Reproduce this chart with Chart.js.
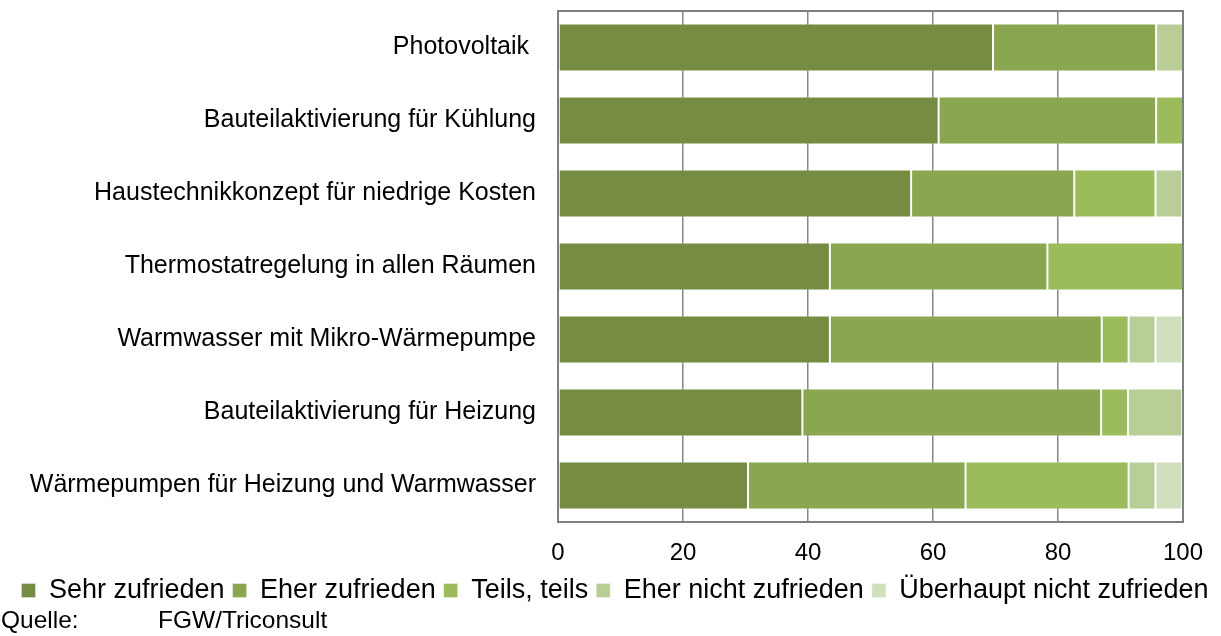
<!DOCTYPE html>
<html>
<head>
<meta charset="utf-8">
<script src="https://cdn.jsdelivr.net/npm/chart.js@4.4.0/dist/chart.umd.min.js"></script>
<style>
  body { margin: 0; background: #fff; font-family: "Liberation Sans", Arial, sans-serif; }
  #wrap { position: relative; width: 1221px; height: 636px; }
  #quelle { position: absolute; left: 1px; top: 606px; font-size: 24.5px; color: #000; line-height: 28px; }
  #quelle span { display: inline-block; width: 157px; }
</style>
</head>
<body>
<div id="wrap">
  <canvas id="myChart" width="1221" height="636"></canvas>
  <div id="quelle"><span>Quelle:</span>FGW/Triconsult</div>
</div>
<script>
// Anteile in Prozent (Zeilen oben -> unten)
var categories = [
    'Photovoltaik ',
    'Bauteilaktivierung für Kühlung',
    'Haustechnikkonzept für niedrige Kosten',
    'Thermostatregelung in allen Räumen',
    'Warmwasser mit Mikro-Wärmepumpe',
    'Bauteilaktivierung für Heizung',
    'Wärmepumpen für Heizung und Warmwasser'
];
var sehrZufrieden      = [69.6, 60.9, 56.5, 43.5, 43.5, 39.1, 30.4];
var eherZufrieden      = [26.1, 34.8, 26.1, 34.8, 43.5, 47.8, 34.8];
var teilsTeils         = [0,    4.3,  13.0, 21.7, 4.3,  4.3,  26.1];
var eherNichtZufrieden = [4.3,  0,    4.3,  0,    4.3,  8.7,  4.3];
var ueberhauptNicht    = [0,    0,    0,    0,    4.3,  0,    4.3];
var xTicks = [0, 20, 40, 60, 80, 100];

var frame = {
    id: 'frame',
    afterDraw: function(chart) {
        var a = chart.chartArea;
        var c = chart.ctx;
        c.save();
        c.strokeStyle = '#7f7f7f';
        c.lineWidth = 2;
        c.strokeRect(a.left, a.top, a.right - a.left, a.bottom - a.top);
        c.restore();
    }
};

function ds(label, data, color) {
    return {
        label: label,
        data: data,
        backgroundColor: color,
        borderColor: 'rgba(255,255,255,0.35)',
        borderWidth: 1,
        borderSkipped: false,
        barPercentage: 0.66,
        categoryPercentage: 1
    };
}

var ctx = document.getElementById('myChart').getContext('2d');
var myChart = new Chart(ctx, {
    type: 'bar',
    data: {
        labels: categories,
        datasets: [
            ds('Sehr zufrieden', sehrZufrieden, '#768c42'),
            ds('Eher zufrieden', eherZufrieden, '#8aa651'),
            ds('Teils, teils', teilsTeils, '#9cbb5a'),
            ds('Eher nicht zufrieden', eherNichtZufrieden, '#b9ce96'),
            ds('Überhaupt nicht zufrieden', ueberhauptNicht, '#d1dfbd')
        ]
    },
    options: {
        indexAxis: 'y',
        responsive: false,
        animation: false,
        layout: { padding: { top: 11, right: 0, bottom: 22, left: 9 } },
        plugins: {
            legend: {
                position: 'bottom',
                labels: {
                    color: '#000',
                    font: { family: 'Liberation Sans', size: 27 },
                    boxWidth: 14,
                    boxHeight: 14,
                    padding: 8
                }
            },
            tooltip: { enabled: false }
        },
        scales: {
            x: {
                stacked: true,
                min: 0,
                max: 100,
                afterBuildTicks: function(scale) {
                    scale.ticks = xTicks.map(function(v) { return { value: v }; });
                },
                afterFit: function(scale) {
                    scale.height = 47;
                    scale.paddingRight = 38;
                },
                grid: { color: '#868686', lineWidth: 1.5, drawTicks: false },
                border: { display: false },
                ticks: {
                    color: '#000',
                    font: { family: 'Liberation Sans', size: 24 },
                    padding: 17
                }
            },
            y: {
                stacked: true,
                afterFit: function(scale) {
                    scale.width = 549;
                    scale.paddingTop = 0;
                    scale.paddingBottom = 0;
                },
                grid: { display: false, drawTicks: false },
                border: { display: false },
                ticks: {
                    color: '#000',
                    font: { family: 'Liberation Sans', size: 25 },
                    padding: 22
                }
            }
        }
    },
    plugins: [frame]
});
</script>
</body>
</html>
